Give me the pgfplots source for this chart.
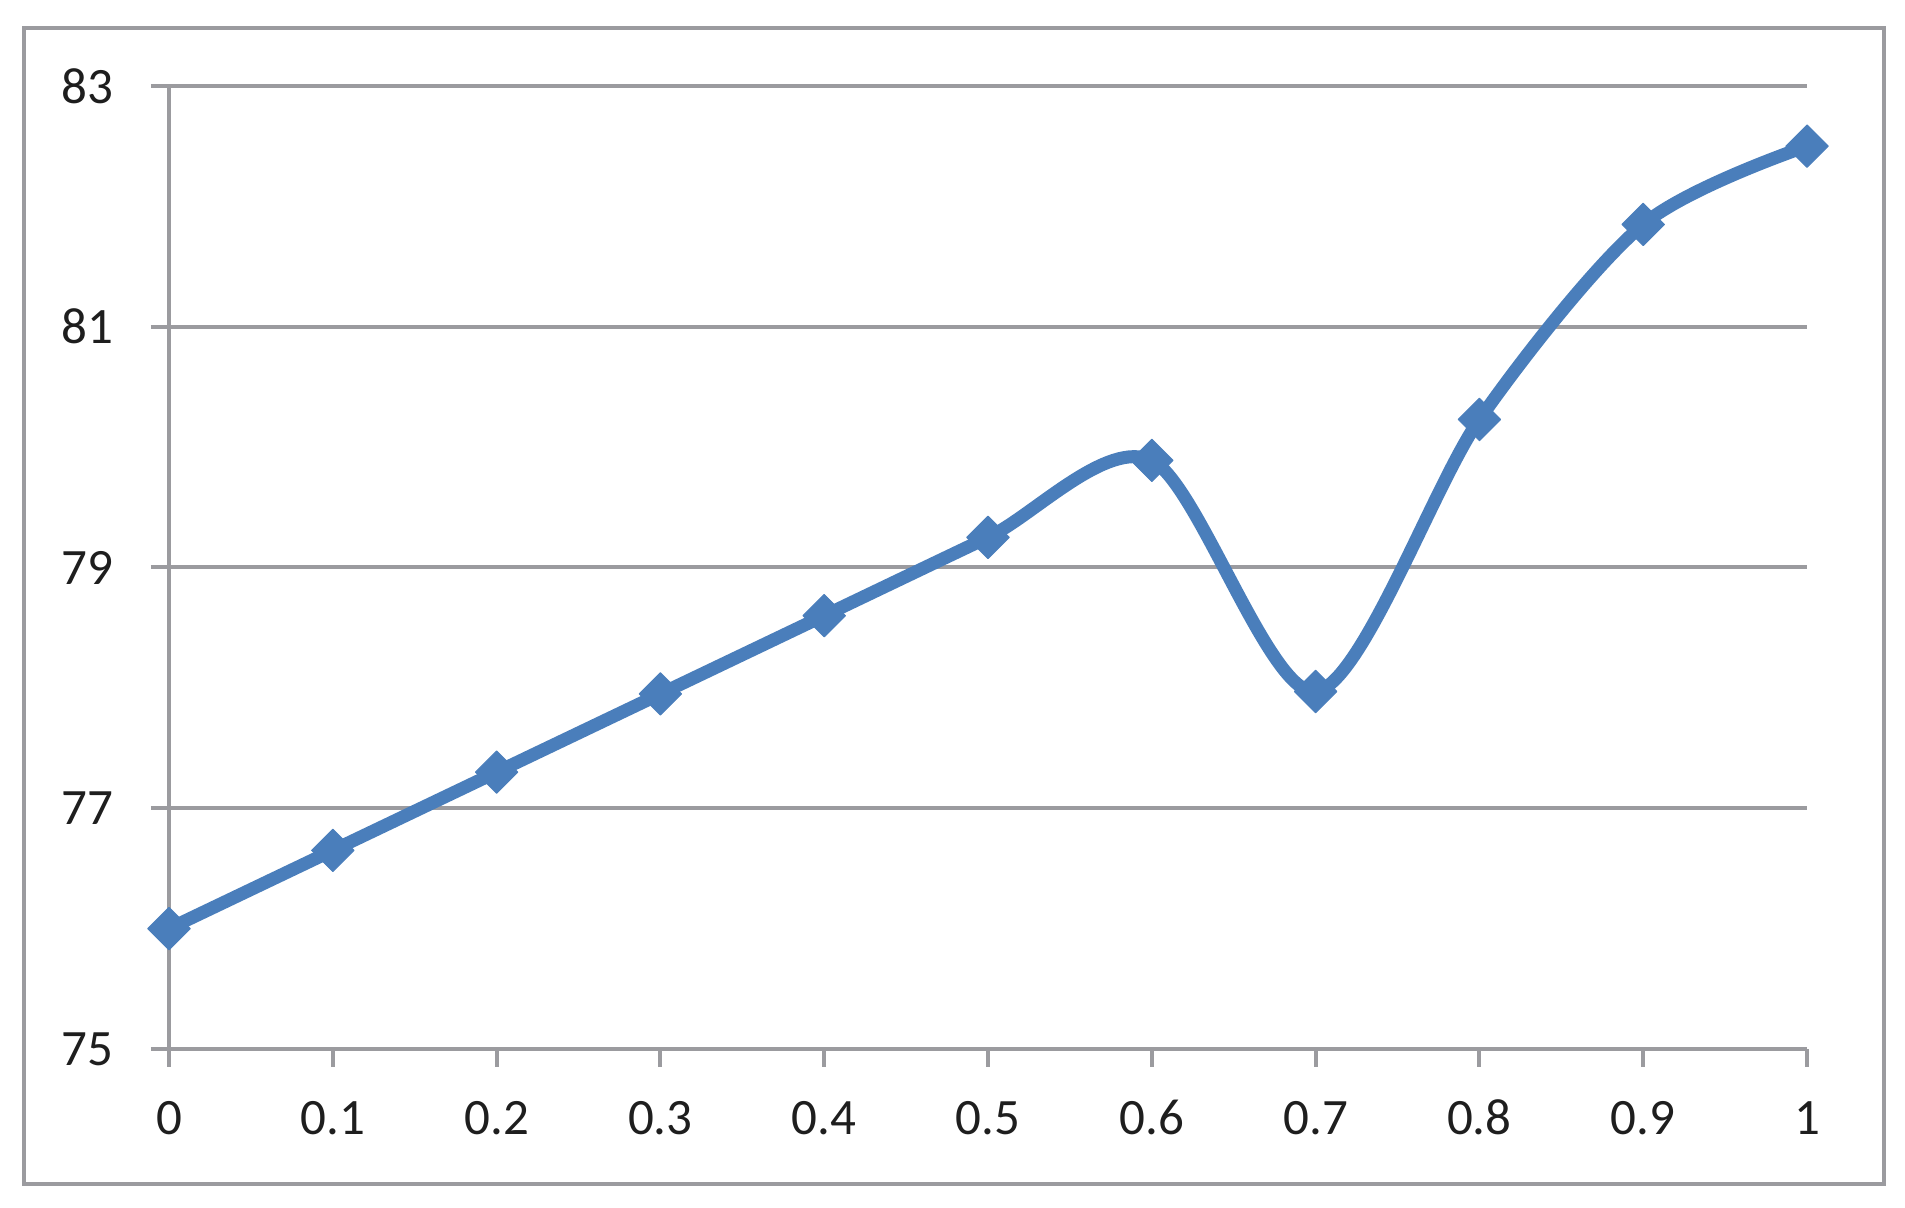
\documentclass[border=0pt]{standalone}
\usepackage{fontspec}
\setmainfont{Carlito}
\usepackage{pgfplots}
\pgfplotsset{compat=1.18}
\definecolor{gridgray}{RGB}{155,155,159}
\definecolor{lineblue}{RGB}{74,126,187}
\definecolor{txt}{RGB}{30,30,30}
\begin{document}
\begin{tikzpicture}
\useasboundingbox (-84.5pt,-79.5pt) rectangle (868pt,524.5pt);
\draw[gridgray, line width=2pt] (-72.5pt,-67.5pt) rectangle (857.5pt,510.5pt);
\begin{axis}[
  at={(0pt,0pt)}, anchor=south west,
  scale only axis, width=819pt, height=481.5pt,
  xmin=0, xmax=1, ymin=75, ymax=83,
  clip=false,
  axis lines=left,
  axis line style={-, gridgray, line width=2pt},
  xtick={0,0.1,0.2,0.3,0.4,0.5,0.6,0.7,0.8,0.9,1},
  xticklabels={0,0.1,0.2,0.3,0.4,0.5,0.6,0.7,0.8,0.9,1},
  ytick={75,77,79,81,83},
  yticklabels={75,77,79,81,83},
  tick align=outside,
  major tick length=9pt,
  tick style={gridgray, line width=2pt},
  ymajorgrids,
  grid style={gridgray, line width=2pt},
  /pgf/number format/assume math mode=true,
  ticklabel style={font=\fontsize{25.5}{30}\selectfont, text=txt, inner sep=0pt},
  yticklabel style={anchor=east, xshift=-18.5pt},
  xticklabel style={anchor=base, yshift=-34pt},
]
\addplot[lineblue, line width=6.5pt, line join=round, line cap=round, smooth, tension=0.5,
  mark=square*, mark size=7.5pt,
  mark options={solid, rotate=45, fill=lineblue, draw=lineblue, line width=0.5pt}]
coordinates {
(0,76.00) (0.1,76.65) (0.2,77.30) (0.3,77.95) (0.4,78.60) (0.5,79.25)
(0.6,79.89) (0.7,77.97) (0.8,80.23) (0.9,81.85) (1,82.50)
};
\end{axis}
\end{tikzpicture}
\end{document}
